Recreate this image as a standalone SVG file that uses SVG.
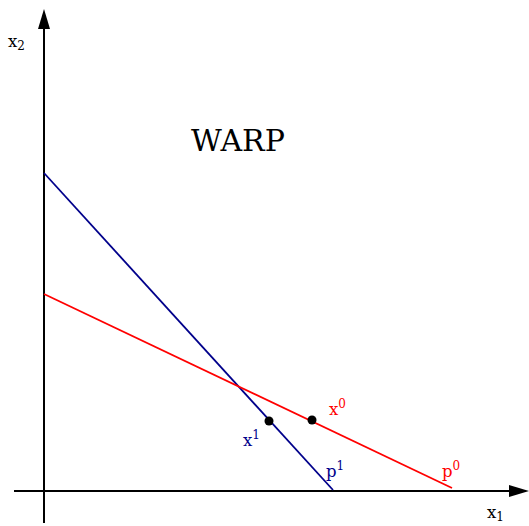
<svg xmlns="http://www.w3.org/2000/svg" width="529" height="526" viewBox="0 0 529 526">
<style>
text{font-family:"DejaVu Serif","Liberation Serif",serif;}
.lbl{font-size:16.5px;}
.sup{font-size:12px;}
.red{fill:#ff0000;}
.blue{fill:#00008b;}
</style>
<rect width="529" height="526" fill="#fff"/>
<g id="axes">
<line x1="44" y1="523" x2="44" y2="26" stroke="#000" stroke-width="2"/>
<polygon points="44,9 38,29 50,29" fill="#000"/>
<line x1="14" y1="491" x2="512" y2="491" stroke="#000" stroke-width="2"/>
<polygon points="529,491 509,485 509,497" fill="#000"/>
</g>
<g id="connectors">
<line id="p1" x1="44" y1="173" x2="333" y2="490" stroke="#00008b" stroke-width="1.8"/>
<line id="p0" x1="44" y1="294" x2="452" y2="488" stroke="#ff0000" stroke-width="1.8"/>
</g>
<g id="points">
<circle cx="269" cy="421" r="4.5" fill="#000"/>
<circle cx="312" cy="420" r="4.5" fill="#000"/>
</g>
<g id="labels">
<text x="8" y="47" class="lbl">x<tspan class="sup" dy="3">2</tspan></text>
<text x="487" y="518" class="lbl">x<tspan class="sup" dy="3">1</tspan></text>
<text x="238" y="151" font-size="30" text-anchor="middle">WARP</text>
<text x="329" y="415" class="lbl red">x<tspan class="sup" dy="-7">0</tspan></text>
<text x="243" y="446" class="lbl blue">x<tspan class="sup" dy="-7">1</tspan></text>
<text x="326" y="477" class="lbl blue">p<tspan class="sup" dy="-7">1</tspan></text>
<text x="442" y="477" class="lbl red">p<tspan class="sup" dy="-7">0</tspan></text>
</g>
</svg>
